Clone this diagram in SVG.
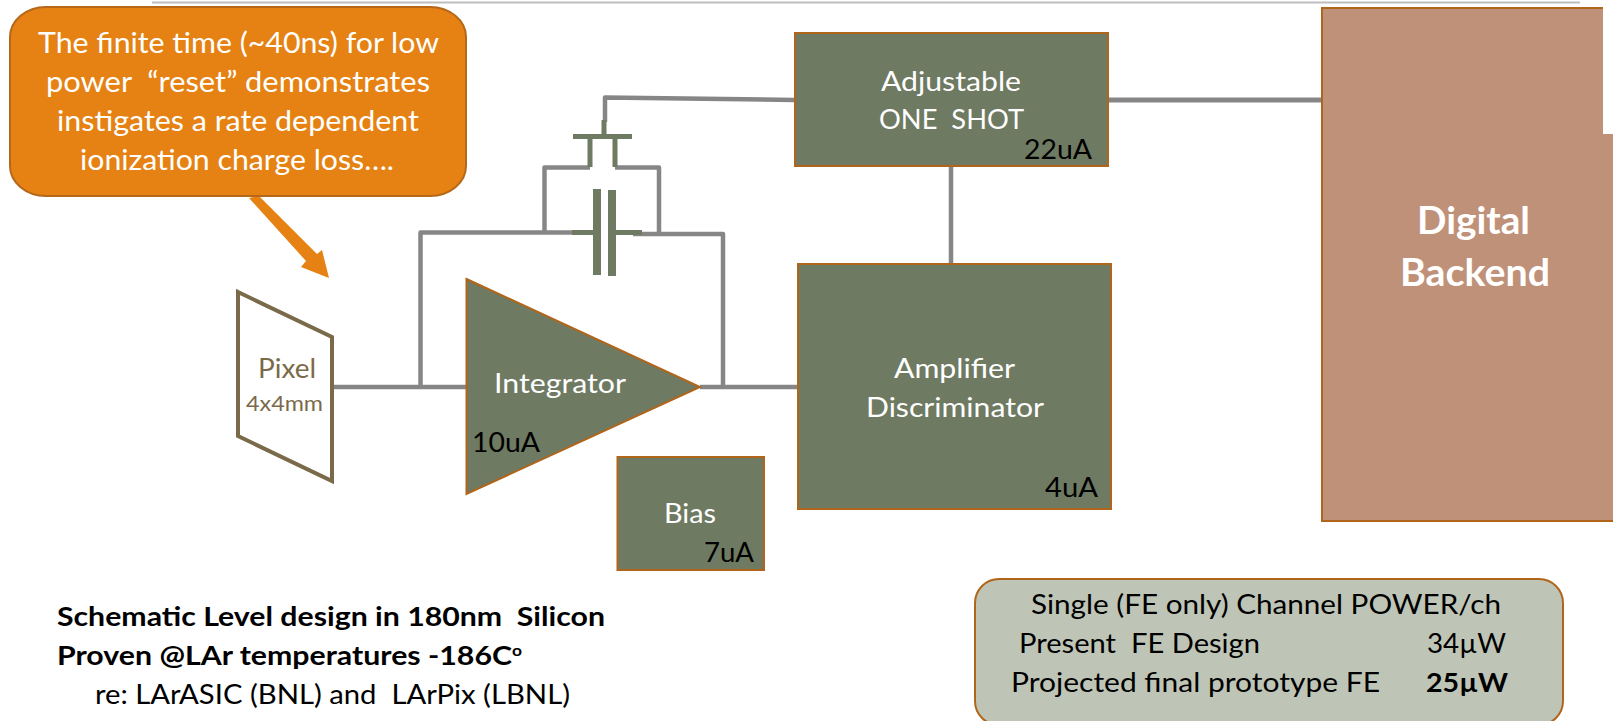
<svg xmlns="http://www.w3.org/2000/svg" width="1613" height="721" viewBox="0 0 1613 721">
<style>
text{font-family:Lato,Carlito,"Open Sans",sans-serif;white-space:pre}
.w{fill:#fff}.k{fill:#000}.b{font-weight:700}
.n{fill:#6f7a62;stroke:#b0651a;stroke-width:2}
.g{fill:none;stroke:#868686;stroke-width:4.500;stroke-linejoin:round}
.s{fill:none;stroke:#6f7a62;stroke-width:5}
</style>
<rect width="1613" height="721" fill="#fff"/>
<line x1="152" y1="2.500" x2="1580" y2="2.500" stroke="#bdbdbd" stroke-width="2"/>
<g id="connectors">
<path class="g" d="M332 387H467M420.500 387V232.500H572M633 234H723V387M700 387H800"/>
<path class="g" d="M605 122V97.500L795 100M544.500 232V167.500H590M615 167.500H659V233"/>
<path class="g" d="M1108 100H1322" style="stroke-width:5"/>
<path class="g" d="M951 166V263"/>
<path class="s" d="M604 120V136M573 136.500H632M590 136V167M615 136V167M572 232.500H598M616 232.500H642"/>
<path class="s" style="stroke-width:8" d="M597 189V275M612 190V276"/>
</g>
<g id="callout">
<polygon points="249,198 259,196 317,254 322,250 329,278 301,267 306,261" fill="#e58213"/>
<rect x="10" y="7" width="456" height="189" rx="36" ry="30" fill="#e58213" stroke="#b5681a" stroke-width="2"/>
<text class="w" font-size="29" x="38" y="53" textLength="401" lengthAdjust="spacingAndGlyphs">The finite time (~40ns) for low</text>
<text class="w" font-size="29" x="46" y="92" textLength="384" lengthAdjust="spacingAndGlyphs">power  “reset” demonstrates</text>
<text class="w" font-size="29" x="57" y="131" textLength="362" lengthAdjust="spacingAndGlyphs">instigates a rate dependent</text>
<text class="w" font-size="29" x="80" y="170" textLength="314" lengthAdjust="spacingAndGlyphs">ionization charge loss….</text>
</g>
<g id="pixel">
<polygon points="238,292 332,337 332,481 238,436" fill="#fff" stroke="#7a6a4a" stroke-width="4"/>
<text fill="#7a6a4a" font-size="27" x="258" y="378" textLength="58" lengthAdjust="spacingAndGlyphs">Pixel</text>
<text fill="#7a6a4a" font-size="22" x="246" y="411" textLength="77" lengthAdjust="spacingAndGlyphs">4x4mm</text>
</g>
<g id="integrator">
<polygon class="n" points="466.500,279 700,387 466.500,494"/>
<text class="w" font-size="27" x="494" y="393" textLength="132" lengthAdjust="spacingAndGlyphs">Integrator</text>
<text class="k" font-size="27" x="472" y="452" textLength="68" lengthAdjust="spacingAndGlyphs">10uA</text>
</g>
<g id="bias">
<rect class="n" x="617.500" y="457" width="146.500" height="113"/>
<text class="w" font-size="27" x="664" y="523" textLength="52" lengthAdjust="spacingAndGlyphs">Bias</text>
<text class="k" font-size="27" x="704" y="562" textLength="50" lengthAdjust="spacingAndGlyphs">7uA</text>
</g>
<g id="oneshot">
<rect class="n" x="795" y="33" width="313" height="133"/>
<text class="w" font-size="27" x="881" y="91" textLength="140" lengthAdjust="spacingAndGlyphs">Adjustable</text>
<text class="w" font-size="27" x="879" y="129" textLength="145" lengthAdjust="spacingAndGlyphs">ONE  SHOT</text>
<text class="k" font-size="27" x="1024" y="159" textLength="68" lengthAdjust="spacingAndGlyphs">22uA</text>
</g>
<g id="amplifier">
<rect class="n" x="798" y="264" width="313" height="245"/>
<text class="w" font-size="27" x="894" y="378" textLength="121" lengthAdjust="spacingAndGlyphs">Amplifier</text>
<text class="w" font-size="27" x="866" y="417" textLength="178" lengthAdjust="spacingAndGlyphs">Discriminator</text>
<text class="k" font-size="27" x="1045" y="497" textLength="53" lengthAdjust="spacingAndGlyphs">4uA</text>
</g>
<g id="digital">
<rect x="1322" y="8" width="310" height="513" fill="#c09179" stroke="#b0651a" stroke-width="2"/>
<rect x="1603" y="0" width="10" height="134" fill="#fff"/>
<text class="w b" font-size="38" x="1417" y="234" textLength="113" lengthAdjust="spacingAndGlyphs">Digital</text>
<text class="w b" font-size="38" x="1400" y="286" textLength="150" lengthAdjust="spacingAndGlyphs">Backend</text>
</g>
<g id="power">
<rect x="975" y="579" width="588" height="146" rx="24" fill="#bfc5b6" stroke="#b0651a" stroke-width="2"/>
<text class="k" font-size="27" x="1031" y="614" textLength="470" lengthAdjust="spacingAndGlyphs">Single (FE only) Channel POWER/ch</text>
<text class="k" font-size="27" x="1019" y="653" textLength="241" lengthAdjust="spacingAndGlyphs">Present  FE Design</text>
<text class="k" font-size="27" x="1427" y="653" textLength="79" lengthAdjust="spacingAndGlyphs">34µW</text>
<text class="k" font-size="27" x="1011" y="692" textLength="369" lengthAdjust="spacingAndGlyphs">Projected final prototype FE</text>
<text class="k b" font-size="27" x="1426" y="692" textLength="82" lengthAdjust="spacingAndGlyphs">25µW</text>
</g>
<g id="notes">
<text class="k b" font-size="27" x="57" y="626" textLength="548" lengthAdjust="spacingAndGlyphs">Schematic Level design in 180nm  Silicon</text>
<text class="k b" font-size="27" x="57" y="665" textLength="455" lengthAdjust="spacingAndGlyphs">Proven @LAr temperatures -186C</text>
<text class="k b" font-size="16" x="512" y="656" textLength="10" lengthAdjust="spacingAndGlyphs">o</text>
<text class="k" font-size="27" x="95" y="704" textLength="475" lengthAdjust="spacingAndGlyphs">re: LArASIC (BNL) and  LArPix (LBNL)</text>
</g>
</svg>
